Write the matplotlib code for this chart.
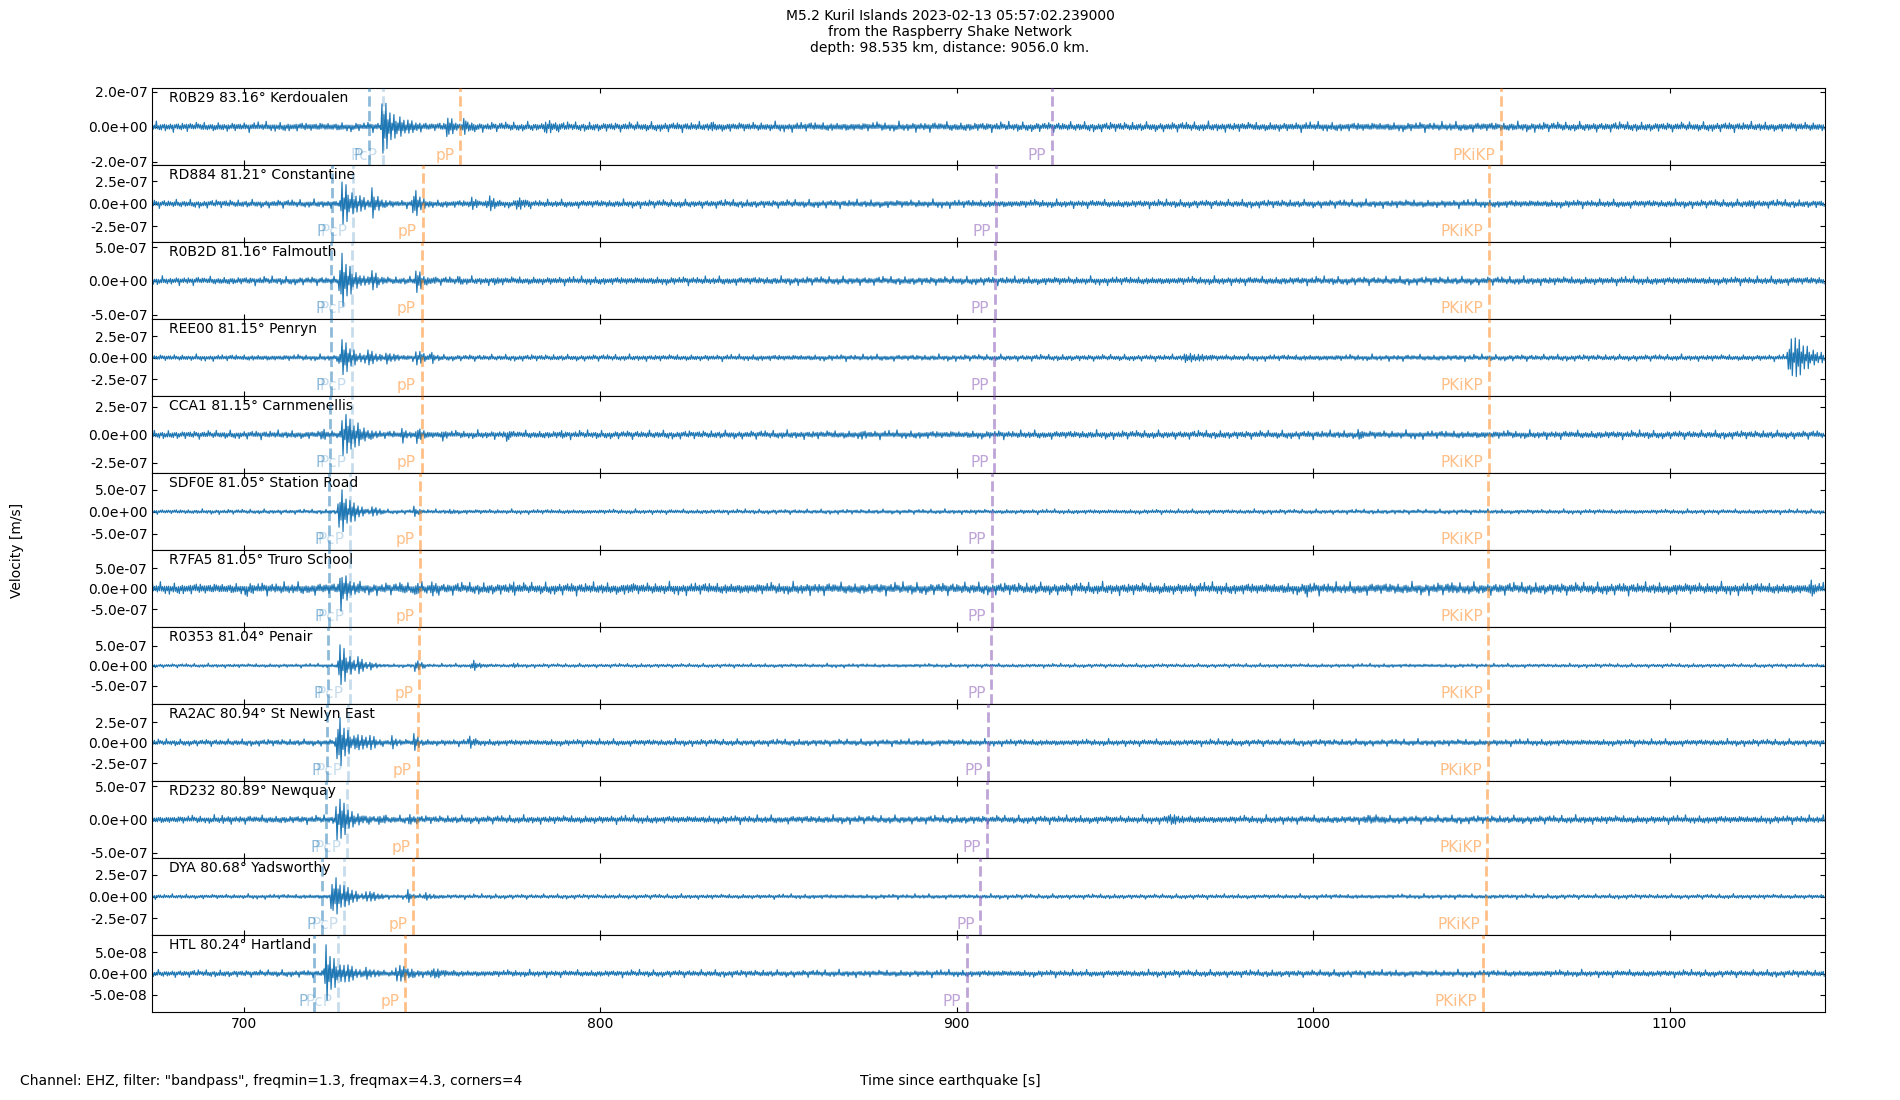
# Raspberry Shake section plot, M5.2 Kuril Islands
import numpy as np
import matplotlib
matplotlib.use("Agg")
import matplotlib.pyplot as plt
from matplotlib import transforms

# stations, top to bottom
stations = ["R0B29", "RD884", "R0B2D", "REE00", "CCA1", "SDF0E",
            "R7FA5", "R0353", "RA2AC", "RD232", "DYA", "HTL"]
distances = [83.16, 81.21, 81.16, 81.15, 81.15, 81.05,
             81.05, 81.04, 80.94, 80.89, 80.68, 80.24]
places = ["Kerdoualen", "Constantine", "Falmouth", "Penryn", "Carnmenellis",
          "Station Road", "Truro School", "Penair", "St Newlyn East",
          "Newquay", "Yadsworthy", "Hartland"]

# phase arrival times [s since origin]
t_P = [735.1, 724.7, 724.4, 724.4, 724.3, 724.0, 723.9, 723.8, 723.3, 723.0, 721.9, 719.6]
t_PcP = [739.0, 730.6, 730.4, 730.4, 730.3, 729.8, 729.8, 729.7, 729.3, 729.1, 728.2, 726.6]
t_pP = [760.7, 750.2, 749.9, 749.9, 749.9, 749.4, 749.4, 749.3, 748.8, 748.5, 747.5, 745.3]
t_PP = [926.7, 911.1, 910.7, 910.6, 910.6, 909.8, 909.8, 909.7, 908.9, 908.5, 906.7, 902.9]
t_PKiKP = [1052.6, 1049.4, 1049.3, 1049.3, 1049.3, 1049.2, 1049.2, 1049.2, 1049.0, 1048.9, 1048.6, 1047.7]

# amplitudes in 1e-7 m/s
ylims = [2.2, 4.3, 5.7, 4.5, 3.45, 8.7, 9.4, 9.6, 4.7, 5.8, 4.4, 0.9]
yticks = [2.0, 2.5, 5.0, 2.5, 2.5, 5.0, 5.0, 5.0, 2.5, 5.0, 2.5, 0.5]
noise = [0.33, 0.55, 0.75, 0.45, 0.45, 0.65, 1.8, 0.6, 0.5, 0.75, 0.33, 0.1]

# wave packets: (start [s], peak amplitude, duration [s])
bursts = [
    [(738.2, 1.75, 6), (742, 0.8, 8), (756.8, 1.05, 3), (761, 0.5, 5), (784, 0.45, 8), (830, 0.35, 5)],
    [(726.8, 3.1, 6), (731, 1.4, 5), (735.5, 1.9, 4), (747.2, 1.9, 4), (763.5, 1.0, 3),
     (768, 1.3, 3.5), (776, 0.8, 6), (1122, 0.7, 3)],
    [(726.5, 4.5, 6), (730.5, 1.5, 5), (735.5, 1.9, 4), (748, 2.1, 3.5), (752, 0.9, 3),
     (760, 0.8, 3), (770, 0.7, 3)],
    [(726.5, 2.6, 6), (733.5, 1.2, 6), (739.5, 0.9, 5), (748, 1.3, 3.5), (752.5, 0.8, 3),
     (963, 0.7, 12), (1132.8, 3.3, 9)],
    [(721.5, 0.7, 3), (727.2, 2.7, 5), (730.5, 1.4, 6), (744.2, 0.85, 2.5), (748.3, 1.1, 3),
     (755.5, 0.7, 2.5), (773.5, 0.6, 2.5), (788.5, 0.6, 2.5), (873, 0.6, 3), (1012, 0.6, 3)],
    [(726.2, 7.5, 5), (730.5, 2.2, 5), (735.5, 1.6, 4), (747.2, 1.4, 3.5), (757, 0.8, 4)],
    [(700.7, 2.8, 2), (726.8, 6.0, 4.5), (743.5, 2.2, 2.5), (747.8, 2.2, 2.5), (752.5, 2.2, 3),
     (775, 2.0, 3), (807.5, 2.2, 2.5), (998, 2.5, 2.5), (1038, 2.2, 2.5), (1139, 2.6, 3)],
    [(726.2, 7.0, 5), (731.5, 2.6, 4), (735, 1.2, 5), (747.8, 2.2, 3), (763.5, 1.75, 4),
     (775, 0.8, 3)],
    [(725.8, 3.6, 5.5), (731, 1.6, 5), (735, 1.2, 4), (741, 0.9, 4), (747.3, 1.3, 3),
     (763, 0.8, 3.5)],
    [(693, 0.7, 6), (725.5, 4.4, 5.5), (730.5, 1.3, 6), (737.5, 1.0, 5), (746, 0.9, 5),
     (958, 0.9, 12), (1014, 0.8, 9)],
    [(724.2, 3.3, 6), (729.5, 1.0, 5), (733.5, 0.8, 7), (745.5, 1.0, 2.5), (750, 0.5, 6)],
    [(722.3, 0.69, 6), (727.5, 0.3, 6), (733, 0.2, 6), (742, 0.25, 8), (752, 0.15, 8)],
]

# fixed jitter patterns so the traces don't look like a flat band
texture_a = [0.35, 0.5, 0.3, 0.45, 1.0, 0.4, 0.3, 0.55, 0.35, 0.7, 0.4, 0.3, 0.45, 0.85, 0.35, 0.5,
             0.3, 0.4, 0.6, 0.35, 0.45, 0.95, 0.4, 0.3, 0.5, 0.35, 0.65, 0.4, 0.3, 0.5, 0.75]
texture_b = [1.0, 0.8, 0.95, 0.7, 1.0, 0.85, 0.6, 0.9, 1.0, 0.75, 0.9, 0.65, 1.0, 0.8, 0.95, 0.7, 0.9]
texture_c = [1.0, 0.35, 0.8, 0.25, 0.95, 0.5, 0.3, 0.85, 0.4, 0.7, 0.2, 0.9, 0.45]

t_start, t_end, dt = 674.4, 1143.6, 0.28

phases = [("P", t_P, "#1f77b4", 0.5), ("PcP", t_PcP, "#1f77b4", 0.25),
          ("pP", t_pP, "#ff7f0e", 0.5), ("PP", t_PP, "#9467bd", 0.6),
          ("PKiKP", t_PKiKP, "#ff7f0e", 0.5)]


def make_trace(t, k):
    n = len(t)
    env = np.zeros(n)
    for t0, amp, dur in bursts[k]:
        x = (t - t0) / dur
        shape = np.where(x < 0.12, x / 0.12, np.exp(-1.6 * (x - 0.12)))
        shape[(x < 0) | (x > 1.6)] = 0
        env = np.maximum(env, amp * shape)
    ta = np.resize(np.roll(texture_a, 3 * k), n)
    tb = np.resize(np.roll(texture_b, 5 * k), n)
    # same height for both halves of a swing so packets stay symmetric
    tc = np.resize(np.repeat(np.roll(texture_c, 2 * k), 2), n)
    amp = np.maximum(noise[k] * ta * tb, env * tc)
    sign = np.where(np.arange(n) % 2 == 0, 1.0, -1.0)
    return sign * amp * 1e-7


def main():
    fig, axes = plt.subplots(len(stations), 1, sharex=True, figsize=(19, 11), dpi=100)
    fig.subplots_adjust(left=0.0802, right=0.9605, top=0.9197, bottom=0.080, hspace=0)

    t = np.arange(t_start, t_end, dt)
    for k, ax in enumerate(axes):
        ax.plot(t, make_trace(t, k), color="#1f77b4", lw=0.85, zorder=2)
        lim = ylims[k] * 1e-7
        tk = yticks[k] * 1e-7
        ax.set_ylim(-lim, lim)
        ax.set_yticks([-tk, 0, tk])
        ax.set_yticklabels(["%.1e" % v for v in (-tk, 0.0, tk)])
        ax.tick_params(direction="in", top=True, right=True, labelsize=10)
        ax.text(0.01, 0.965, "%s %.2f° %s" % (stations[k], distances[k], places[k]),
                transform=ax.transAxes, va="top", ha="left", fontsize=10)

        trans = transforms.blended_transform_factory(ax.transData, ax.transAxes)
        for name, times, col, alpha in phases:
            ax.axvline(times[k], color=col, alpha=alpha, ls="--", lw=2, zorder=3)
            ax.annotate(name, xy=(times[k], 0), xycoords=trans, xytext=(-4, 2),
                        textcoords="offset points", ha="right", va="bottom",
                        color=col, alpha=alpha, fontsize=11)

    axes[-1].set_xlim(t_start, t_end)
    axes[-1].set_xticks([700, 800, 900, 1000, 1100])

    fig.suptitle("M5.2 Kuril Islands 2023-02-13 05:57:02.239000\n"
                 "from the Raspberry Shake Network\n"
                 "depth: 98.535 km, distance: 9056.0 km.",
                 y=0.992, va="top", fontsize=10)
    fig.text(0.5, 0.017, "Time since earthquake [s]", ha="center", va="center", fontsize=10)
    fig.text(0.0103, 0.017, 'Channel: EHZ, filter: "bandpass", freqmin=1.3, freqmax=4.3, corners=4',
             ha="left", va="center", fontsize=10)
    fig.text(0.009, 0.5, "Velocity [m/s]", rotation=90, ha="center", va="center", fontsize=10)

    fig.savefig("out.png", dpi=100)


if __name__ == "__main__":
    main()
